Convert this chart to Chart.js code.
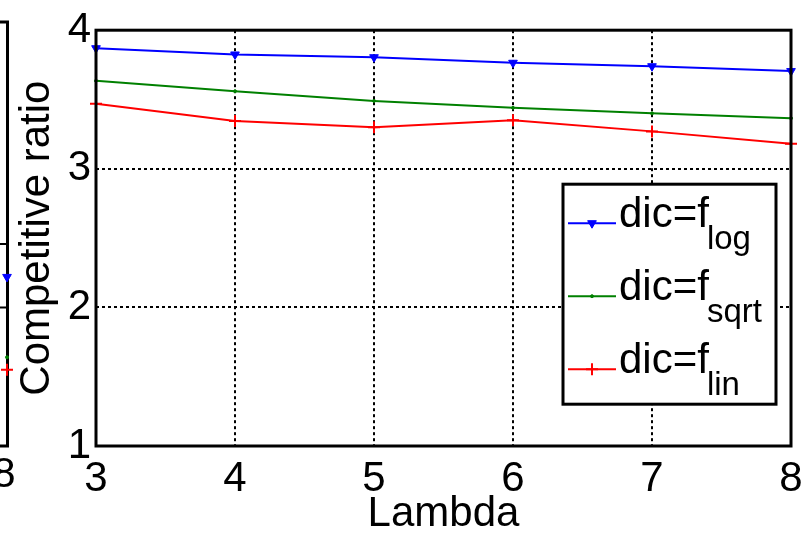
<!DOCTYPE html>
<html>
<head>
<meta charset="utf-8">
<script src="https://cdn.jsdelivr.net/npm/chart.js@4"></script>
<style>
  html, body { margin: 0; padding: 0; background: #fff; }
  #wrap { width: 804px; height: 533px; }
</style>
</head>
<body>
<div id="wrap"><canvas id="CRChart" width="804" height="533"></canvas></div>
<script>
const lambdas = [3, 4, 5, 6, 7, 8];
const crLog  = [3.87, 3.825, 3.805, 3.765, 3.74, 3.705];
const crSqrt = [3.635, 3.56, 3.49, 3.44, 3.40, 3.365];
const crLin  = [3.47, 3.345, 3.30, 3.35, 3.27, 3.18];
const yTicks = [1, 2, 3, 4];
const subNames = ['log', 'sqrt', 'lin'];
// the neighbouring subplot on the left: only its lambda = 8 end is in view
const leftPanelAt8 = [2.22, 1.64, 1.55];

const FONT = '"Liberation Sans", Arial, sans-serif';
Chart.defaults.color = '#000';
Chart.defaults.font.family = FONT;

const ctxCR = document.getElementById('CRChart');

const styles = [
  { color: '#0000ff', pointStyle: 'triangle', rotation: 180, radius: 5, borderWidth: 1 },
  { color: '#008000', pointStyle: 'circle', rotation: 0, radius: 1.5, borderWidth: 1 },
  { color: '#ff0000', pointStyle: 'cross', rotation: 0, radius: 6, borderWidth: 2 }
];

function series(vals, st) {
  return {
    data: lambdas.map((x, i) => ({ x: x, y: vals[i] })),
    borderColor: st.color,
    backgroundColor: st.color,
    borderWidth: 2,
    tension: 0,
    pointStyle: st.pointStyle,
    pointRotation: st.rotation,
    pointRadius: st.radius,
    pointBorderWidth: st.borderWidth,
    clip: false
  };
}

function marker(ctx, st, x, y) {
  ctx.save();
  ctx.fillStyle = st.color;
  ctx.strokeStyle = st.color;
  ctx.lineWidth = st.borderWidth;
  Chart.helpers.drawPoint(ctx, { pointStyle: st.pointStyle, rotation: st.rotation, radius: st.radius, borderWidth: st.borderWidth }, x, y);
  ctx.restore();
}

// box, legend with subscripts, and the sliver of the left subplot
const matlabBits = {
  id: 'matlabBits',
  afterDraw(chart) {
    const ctx = chart.ctx;
    const a = chart.chartArea;
    const ys = chart.scales.y;

    ctx.save();
    ctx.strokeStyle = '#000';
    ctx.lineWidth = 3;
    ctx.strokeRect(a.left, a.top, a.right - a.left, a.bottom - a.top);

    // left subplot fragment
    ctx.beginPath();
    ctx.moveTo(7.5, 22); ctx.lineTo(7.5, a.bottom);
    ctx.moveTo(0, 22); ctx.lineTo(9, 22);
    ctx.moveTo(0, a.bottom); ctx.lineTo(9, a.bottom);
    ctx.stroke();
    ctx.lineWidth = 2;
    ctx.beginPath();
    ctx.moveTo(0, 244); ctx.lineTo(7, 244);
    ctx.moveTo(0, ys.getPixelForValue(2)); ctx.lineTo(7, ys.getPixelForValue(2));
    ctx.stroke();
    leftPanelAt8.forEach((v, i) => marker(ctx, styles[i], 7, ys.getPixelForValue(v)));
    ctx.fillStyle = '#000';
    ctx.font = '42px ' + FONT;
    ctx.textAlign = 'center';
    ctx.textBaseline = 'top';
    ctx.fillText('8', 4, a.bottom + 8);

    // legend
    const x0 = a.right - 228, y0 = a.top + 154, w = 213, h = 220;
    ctx.fillStyle = '#fff';
    ctx.fillRect(x0, y0, w, h);
    ctx.lineWidth = 3;
    ctx.strokeStyle = '#000';
    ctx.strokeRect(x0, y0, w, h);
    ctx.textAlign = 'left';
    ctx.textBaseline = 'alphabetic';
    subNames.forEach((name, i) => {
      const ry = y0 + 39 + i * 73;
      const st = styles[i];
      ctx.strokeStyle = st.color;
      ctx.lineWidth = 2;
      ctx.beginPath();
      ctx.moveTo(x0 + 5, ry); ctx.lineTo(x0 + 53, ry);
      ctx.stroke();
      marker(ctx, st, x0 + 29, ry);
      ctx.fillStyle = '#000';
      ctx.font = '42px ' + FONT;
      ctx.fillText('dic=f', x0 + 56, ry + 4);
      const tw = ctx.measureText('dic=f').width;
      ctx.font = '33px ' + FONT;
      ctx.fillText(name, x0 + 56 + tw - 2, ry + 26);
    });
    ctx.restore();
  }
};

new Chart(ctxCR, {
  type: 'line',
  data: {
    datasets: [series(crLog, styles[0]), series(crSqrt, styles[1]), series(crLin, styles[2])]
  },
  options: {
    responsive: false,
    animation: false,
    layout: { padding: { top: 29, right: 13, left: 0, bottom: 0 } },
    plugins: { legend: { display: false }, tooltip: { enabled: false } },
    scales: {
      x: {
        type: 'linear',
        min: 3, max: 8,
        afterBuildTicks: s => { s.ticks = lambdas.map(v => ({ value: v })); },
        afterFit: s => { s.height = 87; s.paddingLeft = 0; s.paddingRight = 0; },
        grid: { color: '#000', lineWidth: 2, drawTicks: false },
        border: { display: false, dash: [3, 3] },
        ticks: { font: { size: 42 }, padding: 8, maxRotation: 0 },
        title: { display: true, text: 'Lambda', font: { size: 42, lineHeight: 0.9 }, padding: 0 }
      },
      y: {
        min: 1, max: 4,
        afterBuildTicks: s => { s.ticks = yTicks.map(v => ({ value: v })); },
        afterFit: s => { s.width = 96; },
        grid: { color: '#000', lineWidth: 2, drawTicks: false },
        border: { display: false, dash: [3, 3] },
        ticks: { font: { size: 42 }, padding: 5 },
        title: { display: true, text: 'Competitive ratio', font: { size: 42, lineHeight: 1 }, padding: { top: 16 } }
      }
    }
  },
  plugins: [matlabBits]
});
</script>
</body>
</html>
